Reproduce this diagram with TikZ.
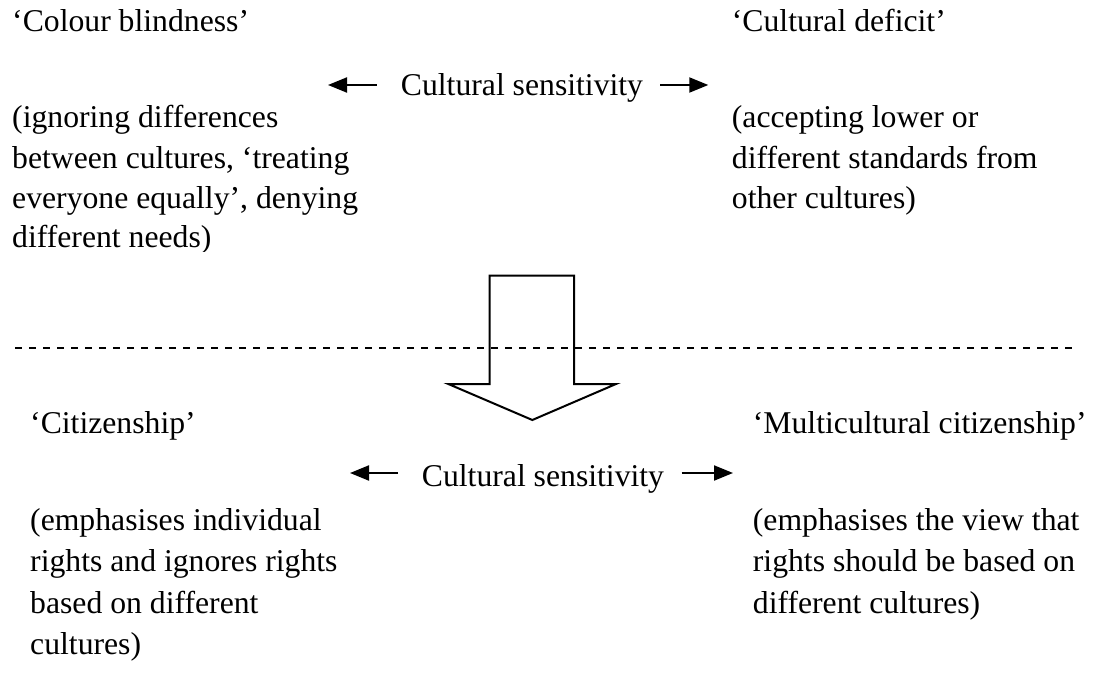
\documentclass[tikz,border=0pt]{standalone}
\usepackage{fontspec}
\setmainfont{Liberation Serif}
\usetikzlibrary{arrows.meta}
\tikzset{
  txt/.style={anchor=base west, inner sep=0pt, font=\fontsize{31.7}{41}\selectfont},
  sidearrow/.style={line width=2pt, -{Triangle[length=19pt,width=15pt]}},
  bigarrow/.style={line width=2pt, line join=miter},
  divider/.style={line width=2pt, dash pattern=on 7.3pt off 6.7pt}
}
\begin{document}
\begin{tikzpicture}[x=1pt,y=-1pt]
\useasboundingbox (0,0) rectangle (1094,682);
% ---------- top part ----------
\node[txt] (cb)  at (12,32)  {‘Colour blindness’};
\node[txt] (cb1) at (12,128) {(ignoring differences};
\node[txt] (cb2) at (12,168) {between cultures, ‘treating};
\node[txt] (cb3) at (12,208) {everyone equally’, denying};
\begin{scope}
  \clip (0,220) rectangle (400,251.5);
  \node[txt] (cb4) at (12,247.5) {different needs)};
\end{scope}

\node[txt] (cd)  at (731.7,32)  {‘Cultural deficit’};
\node[txt] (cd1) at (731.7,128) {(accepting lower or};
\node[txt] (cd2) at (731.7,168) {different standards from};
\node[txt] (cd3) at (731.7,208) {other cultures)};

\node[txt] (cs1) at (400.7,96) {Cultural sensitivity};
\coordinate (a1s) at (376.7,85);
\coordinate (a1e) at (328,85);
\coordinate (a2s) at (660,85);
\coordinate (a2e) at (708.3,85);
\draw[sidearrow] (a1s) -- (a1e);
\draw[sidearrow] (a2s) -- (a2e);

% ---------- divider ----------
\coordinate (dl) at (15,348.3);
\coordinate (dr) at (1073,348.3);
\draw[divider] (dl) -- (dr);

% ---------- big arrow ----------
\draw[bigarrow] (489.7,275.7) -- (574,275.7) -- (574,384) -- (616,384)
  -- (532.3,420) -- (448.3,384) -- (489.7,384) -- cycle;

% ---------- bottom part ----------
\node[txt] (ci)  at (30,433) {‘Citizenship’};
\node[txt] (ci1) at (30,530) {(emphasises individual};
\node[txt] (ci2) at (30,571.5) {rights and ignores rights};
\node[txt] (ci3) at (30,613) {based on different};
\node[txt] (ci4) at (30,654.5) {cultures)};

\node[txt] (mc)  at (752.7,433) {‘Multicultural citizenship’};
\node[txt] (mc1) at (752.7,530) {(emphasises the view that};
\node[txt] (mc2) at (752.7,571.5) {rights should be based on};
\node[txt] (mc3) at (752.7,613) {different cultures)};

\node[txt] (cs2) at (421.7,486) {Cultural sensitivity};
\coordinate (b1s) at (398,473);
\coordinate (b1e) at (350,473);
\coordinate (b2s) at (681.7,473);
\coordinate (b2e) at (733,473);
\draw[sidearrow] (b1s) -- (b1e);
\draw[sidearrow] (b2s) -- (b2e);
\end{tikzpicture}
\end{document}
